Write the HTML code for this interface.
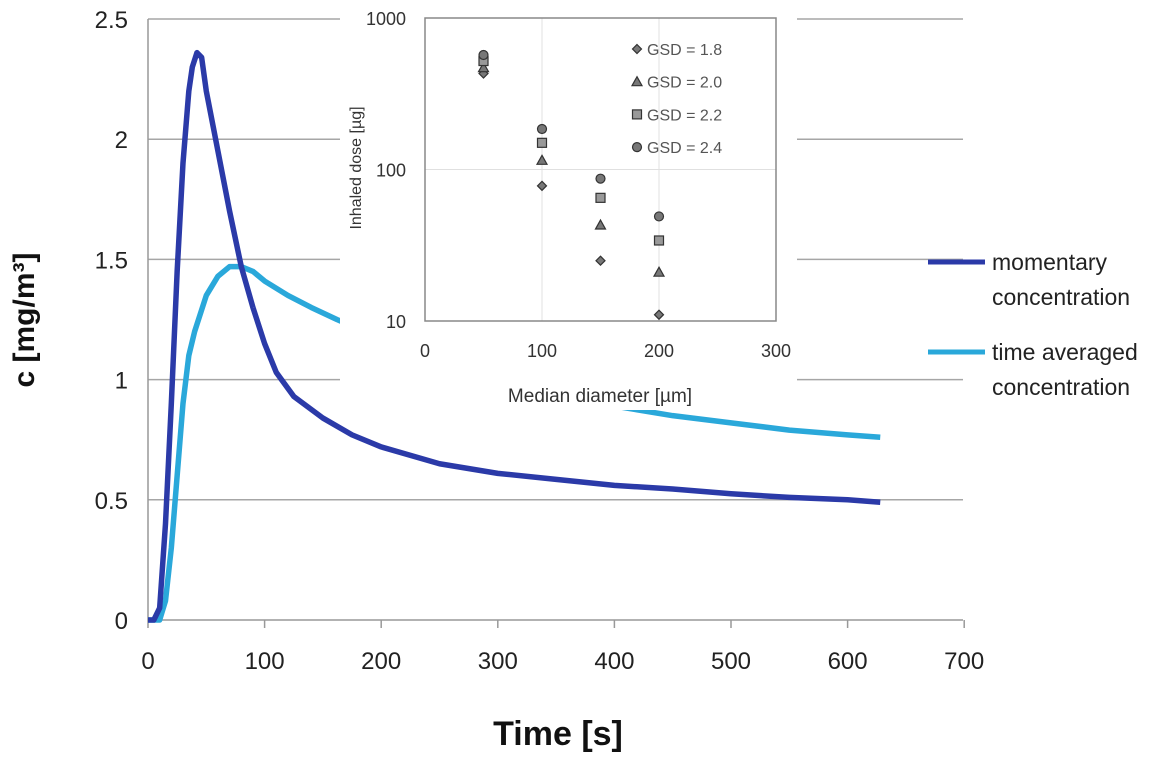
<!DOCTYPE html>
<html><head><meta charset="utf-8"><style>
body{margin:0;background:#fff;width:1150px;height:757px;overflow:hidden}
svg{font-family:"Liberation Sans",sans-serif}
</style></head><body>
<svg id="c" width="1150" height="757"></svg>
<script>
const tMom=[0,5,10,15,20,25,30,35,38,42,46,50,60,70,80,90,100,110,125,150,175,200,250,300,350,400,450,500,550,600,628];
const cMom=[0,0,0.05,0.4,0.9,1.45,1.9,2.2,2.3,2.36,2.34,2.2,1.95,1.7,1.47,1.3,1.15,1.03,0.93,0.84,0.77,0.72,0.65,0.61,0.585,0.56,0.545,0.525,0.51,0.5,0.49];
const tAvg=[0,10,15,20,25,30,35,40,50,60,70,80,90,100,120,140,162,200,250,300,350,400,450,500,550,600,628];
const cAvg=[0,0,0.08,0.3,0.6,0.9,1.1,1.2,1.35,1.43,1.47,1.47,1.45,1.41,1.35,1.3,1.25,1.17,1.08,1.0,0.94,0.89,0.85,0.82,0.79,0.77,0.76];
const yTicks=["0","0.5","1","1.5","2","2.5"];
const xTicks=["0","100","200","300","400","500","600","700"];
const inDiam=[50,100,150,200];
const gsd18=[430,78,25,11];
const gsd20=[470,115,43,21];
const gsd22=[520,150,65,34];
const gsd24=[570,185,87,49];
const inYTicks=[10,100,1000];
const inXTicks=[0,100,200,300];

const NS="http://www.w3.org/2000/svg";
const svg=document.getElementById('c');
function mk(tag,attrs,parent,text){const e=document.createElementNS(NS,tag);for(const k in attrs)e.setAttribute(k,attrs[k]);if(text!==undefined)e.textContent=text;(parent||svg).appendChild(e);return e;}
const X=t=>148+t*1.166;
const Y=c=>620-c*240.4;

yTicks.forEach((l,i)=>{const v=parseFloat(l);
 if(i>0){const g=mk('line',{x1:148,x2:963,y1:Y(v),y2:Y(v),stroke:'#a6a6a6','stroke-width':1.5});
 
 }
 const t=mk('text',{x:128,y:Y(v)+9,'text-anchor':'end','font-size':24,fill:'#222'},svg,l);
 
 
});
mk('line',{x1:148,x2:148,y1:19,y2:620,stroke:'#999','stroke-width':1.5});
mk('line',{x1:148,x2:963,y1:620,y2:620,stroke:'#999','stroke-width':1.5});
xTicks.forEach(l=>{const v=parseFloat(l);
 mk('line',{x1:X(v),x2:X(v),y1:620,y2:628,stroke:'#999','stroke-width':1.5});
 const t=mk('text',{x:X(v),y:669,'text-anchor':'middle','font-size':24,fill:'#222'},svg,l);
 
 
});
function line(ts,cs,color,name){const p=mk('polyline',{points:ts.map((t,i)=>X(t)+','+Y(cs[i])).join(' '),fill:'none',stroke:color,'stroke-width':5.5,'stroke-linejoin':'round'});
 
 }
line(tAvg,cAvg,'#2aa8da','time-averaged-line');
line(tMom,cMom,'#2b3aa8','momentary-line');

let t1=mk('text',{x:558,y:745,'text-anchor':'middle','font-size':34,'font-weight':'bold',fill:'#111'},svg,'Time [s]');


let t2=mk('text',{transform:'translate(34,320) rotate(-90)','text-anchor':'middle','font-size':30,'font-weight':'bold',fill:'#111'},svg,'c [mg/m³]');



[[262,'#2b3aa8',['momentary','concentration'],'legend-momentary'],[352,'#2aa8da',['time averaged','concentration'],'legend-time-averaged']].forEach(([y,c,ls,n])=>{
 const g=mk('g',{});
 
 
 mk('line',{x1:928,x2:985,y1:y,y2:y,stroke:c,'stroke-width':5},g);
 mk('text',{x:992,y:y+8,'font-size':23,fill:'#222'},g,ls[0]);
 mk('text',{x:992,y:y+43,'font-size':23,fill:'#222'},g,ls[1]);
});

const ig=mk('g',{});


mk('rect',{x:340,y:0,width:457,height:410,fill:'#fff'},ig);
const IX=d=>425+d*1.17;
const IY=v=>321-151.5*Math.log10(v/10);
[100,200].forEach(d=>mk('line',{x1:IX(d),x2:IX(d),y1:18,y2:321,stroke:'#e0e0e0','stroke-width':1},ig));
mk('line',{x1:425,x2:776,y1:IY(100),y2:IY(100),stroke:'#e0e0e0','stroke-width':1},ig);
mk('rect',{x:425,y:18,width:351,height:303,fill:'none',stroke:'#888','stroke-width':1.5},ig);
inYTicks.forEach(v=>{const t=mk('text',{x:406,y:IY(v)+7,'text-anchor':'end','font-size':18,fill:'#333'},ig,String(v));
 
 });
inXTicks.forEach(v=>{const t=mk('text',{x:IX(v),y:357,'text-anchor':'middle','font-size':18,fill:'#333'},ig,String(v));
 
 });
let it=mk('text',{x:600,y:402,'text-anchor':'middle','font-size':19,fill:'#333'},ig,'Median diameter [µm]');


let iy=mk('text',{transform:'translate(361,168) rotate(-90)','text-anchor':'middle','font-size':16,fill:'#333'},ig,'Inhaled dose [µg]');


function marker(type,x,y,p){const s={fill:'#777',stroke:'#333','stroke-width':1.2};
 if(type==='d')return mk('polygon',Object.assign({points:`${x},${y-4.5} ${x+4.5},${y} ${x},${y+4.5} ${x-4.5},${y}`},s),p);
 if(type==='t')return mk('polygon',Object.assign({points:`${x},${y-5} ${x+5},${y+4} ${x-5},${y+4}`},s),p);
 if(type==='s')return mk('rect',Object.assign({x:x-4.5,y:y-4.5,width:9,height:9,fill:'#999'},{stroke:'#333','stroke-width':1.2}),p);
 return mk('circle',Object.assign({cx:x,cy:y,r:4.5},s),p);}
[[gsd18,'d','GSD = 1.8'],[gsd20,'t','GSD = 2.0'],[gsd22,'s','GSD = 2.2'],[gsd24,'c','GSD = 2.4']].forEach(([arr,tp,lab],k)=>{
 arr.forEach((v,i)=>{const m=marker(tp,IX(inDiam[i]),IY(v),ig);
  
  });
 const ly=49+k*32.7;
 const g=mk('g',{},ig);
 
 
 marker(tp,637,ly,g);
 mk('text',{x:647,y:ly+6,'font-size':16,fill:'#555'},g,lab);
});
</script>
</body></html>
